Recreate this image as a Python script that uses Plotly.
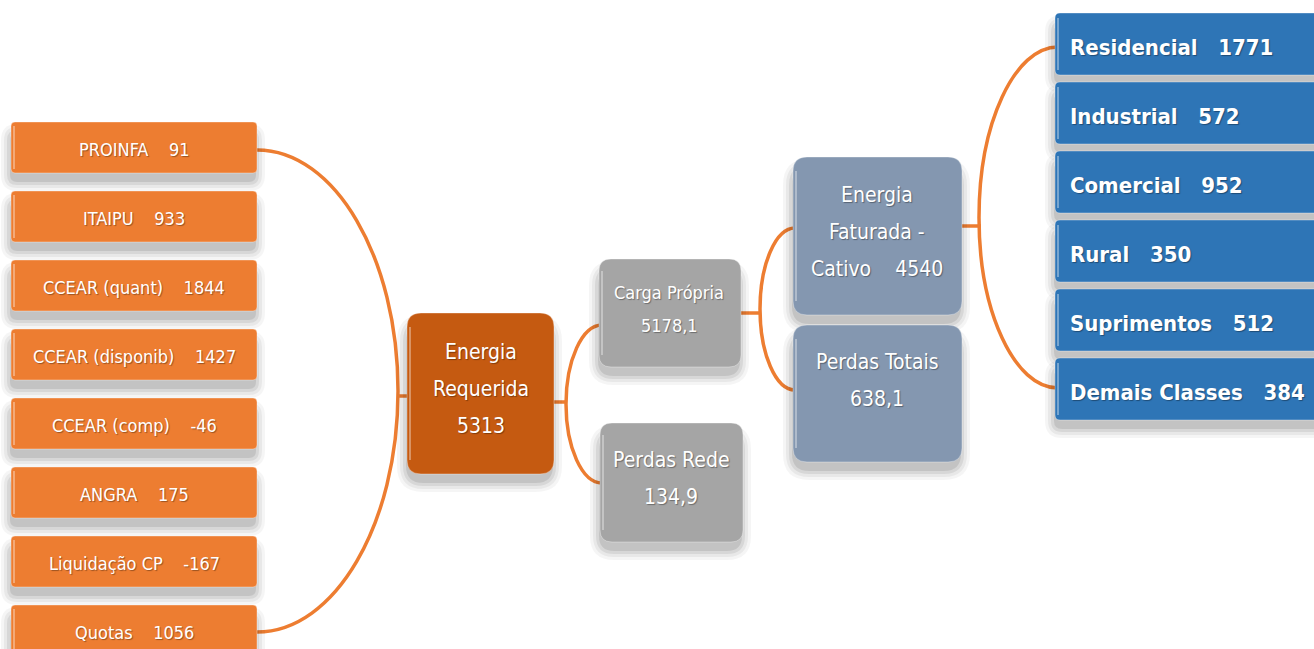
import plotly.graph_objects as go

# ---------------- data ----------------
fontes_labels = ["PROINFA", "ITAIPU", "CCEAR (quant)", "CCEAR (disponib)",
                 "CCEAR (comp)", "ANGRA", "Liquidação CP", "Quotas"]
fontes_values = [91, 933, 1844, 1427, -46, 175, -167, 1056]

classes_labels = ["Residencial", "Industrial", "Comercial", "Rural",
                  "Suprimentos", "Demais Classes"]
classes_values = [1771, 572, 952, 350, 512, 384]

energia_requerida = 5313
carga_propria = 5178.1
perdas_rede = 134.9
energia_faturada = 4540
perdas_totais = 638.1

# ---------------- helpers ----------------
W, H = 1314, 649
NB = "\u00a0"
FONT = "DejaVu Sans Condensed, Liberation Sans Narrow, sans-serif"

ORANGE = "#ED7D31"
DARK_ORANGE = "#C55A11"
GRAY = "#A5A5A5"
BLUEGRAY = "#8497B0"
BLUE = "#2E75B6"

shapes = []
annotations = []


def fmt(v):
    s = f"{v:.1f}" if isinstance(v, float) else str(v)
    return s.replace(".", ",")


def rrect_path(x0, y0, x1, y1, r):
    return (f"M {x0+r},{y0} L {x1-r},{y0} Q {x1},{y0} {x1},{y0+r} "
            f"L {x1},{y1-r} Q {x1},{y1} {x1-r},{y1} L {x0+r},{y1} "
            f"Q {x0},{y1} {x0},{y1-r} L {x0},{y0+r} Q {x0},{y0} {x0+r},{y0} Z")


def box(x0, y0, x1, y1, r, color, shadow=True):
    if shadow:
        for i, a in enumerate([0.04, 0.05, 0.07, 0.09]):
            g = 12 - i * 3
            shapes.append(dict(type="path",
                               path=rrect_path(x0 - g + 2, y0 + 8 - g + 6, x1 + g - 4, y1 + g + 6, r + g),
                               fillcolor=f"rgba(0,0,0,{a})", line=dict(width=0), layer="below"))
    shapes.append(dict(type="path", path=rrect_path(x0, y0, x1, y1, r),
                       fillcolor=color, line=dict(color="rgba(255,255,255,0.35)", width=1),
                       layer="above"))
    shapes.append(dict(type="line", x0=x0 + 3, x1=x0 + 3, y0=y0 + r, y1=y1 - r,
                       line=dict(color="rgba(255,255,255,0.35)", width=2), layer="above"))


def text(x, y, s, size, bold=False, xanchor="center"):
    if bold:
        s = f"<b>{s}</b>"
    annotations.append(dict(x=x, y=y, text=s, showarrow=False, xanchor=xanchor,
                            yanchor="middle", xref="x", yref="y",
                            font=dict(family=FONT, size=size, color="white",
                                      shadow="1px 1px 1px rgba(0,0,0,0.35)")))


def multiline(xc, yc, lines, size, spacing):
    n = len(lines)
    for i, ln in enumerate(lines):
        text(xc, yc + (i - (n - 1) / 2) * spacing, ln, size)


def bracket(xs, y_top, y_bot, x_far, color=ORANGE, width=3.5):
    k = 0.5523
    yc = (y_top + y_bot) / 2
    rx = x_far - xs
    ry = (y_bot - y_top) / 2
    p = (f"M {xs},{y_top} C {xs + rx*k},{y_top} {x_far},{yc - ry*k} {x_far},{yc} "
         f"C {x_far},{yc + ry*k} {xs + rx*k},{y_bot} {xs},{y_bot}")
    shapes.append(dict(type="path", path=p, line=dict(color=color, width=width),
                       layer="below"))


def hline(x0, x1, y, color=ORANGE, width=3.5):
    shapes.append(dict(type="line", x0=x0, x1=x1, y0=y, y1=y,
                       line=dict(color=color, width=width), layer="below"))


# ---------------- connectors ----------------
bracket(257, 150, 632, 398)
hline(398, 410, 396)
hline(552, 567, 402)
bracket(602, 325, 483, 566)
hline(739, 761, 313)
bracket(795, 228, 390, 760)
hline(960, 981, 226)
bracket(1058, 47, 388, 979)

# ---------------- left source boxes ----------------
top0, pitch, bh = 122, 69, 51
for i, (lab, val) in enumerate(zip(fontes_labels, fontes_values)):
    y0 = top0 + i * pitch
    box(11, y0, 257, y0 + bh, 4, ORANGE)
    text(134, y0 + bh / 2 + 2, f"{lab}{NB*4}{fmt(val)}", 18)

# ---------------- centre boxes ----------------
box(407, 313, 554, 474, 14, DARK_ORANGE)
multiline(481, 389, ["Energia", "Requerida", fmt(energia_requerida)], 21, 37)

box(599, 259, 741, 367, 12, GRAY)
multiline(669, 309, ["Carga Própria", fmt(carga_propria)], 18, 33)

box(600, 423, 743, 542, 12, GRAY)
multiline(671, 478, ["Perdas Rede", fmt(perdas_rede)], 21, 37)

box(793, 157, 962, 315, 14, BLUEGRAY)
multiline(877, 232, ["Energia", "Faturada -", f"Cativo{NB*4}{fmt(energia_faturada)}"], 21, 37)

box(793, 325, 962, 462, 14, BLUEGRAY)
multiline(877, 380, ["Perdas Totais", fmt(perdas_totais)], 21, 37)

# ---------------- right class boxes ----------------
rtop0, rpitch, rbh = 13, 69, 62
for i, (lab, val) in enumerate(zip(classes_labels, classes_values)):
    y0 = rtop0 + i * rpitch
    box(1055, y0, 1340, y0 + rbh, 5, BLUE)
    text(1068, y0 + rbh / 2 + 3, f"{lab}{NB*3}{fmt(val)}", 22, bold=True, xanchor="left")

fig = go.Figure()
fig.update_layout(
    width=W, height=H,
    margin=dict(l=0, r=0, t=0, b=0),
    paper_bgcolor="white", plot_bgcolor="white",
    xaxis=dict(range=[0, W], visible=False, fixedrange=True),
    yaxis=dict(range=[H, 0], visible=False, fixedrange=True),
    shapes=shapes, annotations=annotations, showlegend=False,
)
fig.write_html("out.html", config={"displayModeBar": False},
               post_script="document.body.style.margin='0';document.body.style.overflow='hidden';")
